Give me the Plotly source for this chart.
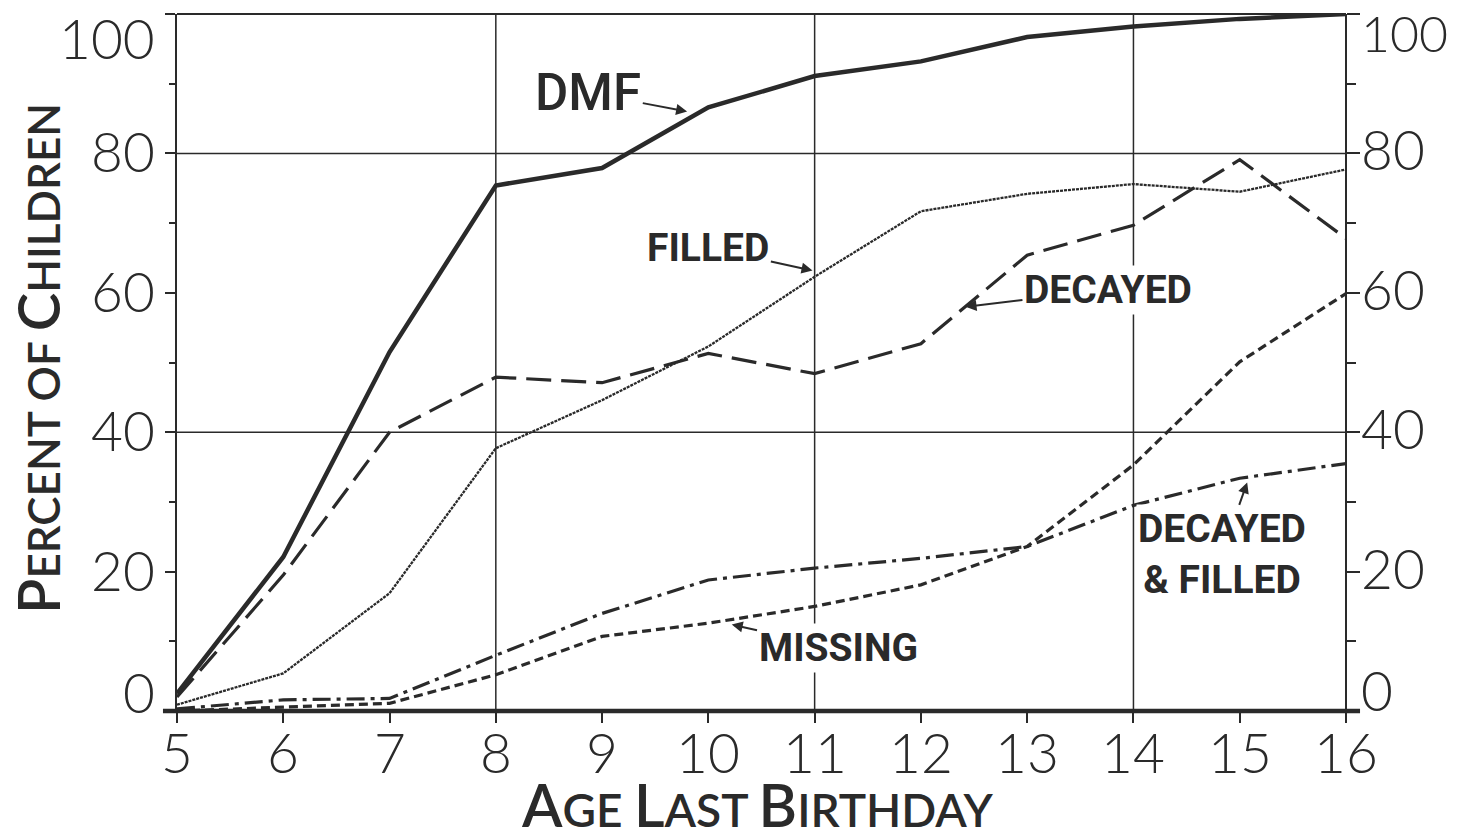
import plotly.graph_objects as go

ages = [5, 6, 7, 8, 9, 10, 11, 12, 13, 14, 15, 16]
dmf = [2.5, 22.1, 51.5, 75.4, 77.9, 86.6, 91.1, 93.2, 96.7, 98.2, 99.3, 100]
decayed = [2.0, 19.5, 40.0, 47.9, 47.1, 51.3, 48.4, 52.7, 65.4, 69.7, 79.1, 67.8]
filled = [0.9, 5.4, 16.9, 37.7, 44.6, 52.3, 62.3, 71.7, 74.2, 75.6, 74.5, 77.7]
missing = [0.0, 0.6, 1.1, 5.2, 10.7, 12.6, 15.0, 18.1, 23.6, 35.3, 50.1, 59.9]
dec_filled = [0.3, 1.6, 1.8, 8.0, 14.0, 18.8, 20.5, 21.9, 23.6, 29.5, 33.4, 35.5]

x_ticks = list(range(5, 17))
y_ticks = [0, 20, 40, 60, 80, 100]
x_grid = [8, 11, 14]
y_grid = [40, 80]

INK = "#2a2a2a"
NUM_FONT = dict(family="Lato Light, Lato, DejaVu Sans", size=55, color=INK, weight=300)
LBL_FONT = dict(family="Roboto, DejaVu Sans", size=39, color=INK, weight="bold")
TITLE_FAMILY = "Lato, DejaVu Sans"

fig = go.Figure()

def add(y, dash, width, name):
    fig.add_trace(go.Scatter(x=ages, y=y, mode="lines", name=name, cliponaxis=False,
                             line=dict(color=INK, width=width, dash=dash)))

add(dmf, "solid", 4.5, "DMF")
add(decayed, "25px,10px", 3.2, "Decayed")
add(filled, "3px,1px", 2.3, "Filled")
add(missing, "9px,5px", 3.2, "Missing")
add(dec_filled, "18px,6px,4px,6px", 3.2, "Decayed & Filled")

# grid lines and frame
for gx in x_grid:
    fig.add_shape(type="line", xref="x", yref="paper", x0=gx, x1=gx, y0=0, y1=1,
                  line=dict(color=INK, width=1.5), layer="below")
for gy in y_grid:
    fig.add_shape(type="line", xref="paper", yref="y", x0=0, x1=1, y0=gy, y1=gy,
                  line=dict(color=INK, width=1.5), layer="below")
fig.add_shape(type="line", xref="paper", yref="paper", x0=0, x1=1, y0=1, y1=1,
              line=dict(color=INK, width=2))
fig.add_shape(type="line", xref="paper", yref="paper", x0=1, x1=1, y0=0, y1=1,
              line=dict(color=INK, width=2))
fig.add_shape(type="line", xref="paper", yref="paper", x0=-0.012, x1=1.012, y0=0, y1=0,
              line=dict(color=INK, width=4.5))

# tick labels (placed like the original lettering)
left_shift = {0: 19, 100: -24}
right_shift = {0: 21, 100: -19}
for v in y_ticks:
    fig.add_annotation(x=0, xref="paper", y=v, yref="y", text=str(v), showarrow=False,
                       xanchor="right", yanchor="middle", xshift=-20,
                       yshift=left_shift.get(v, 2), font=NUM_FONT)
    rfont = dict(NUM_FONT, size=50) if v == 100 else NUM_FONT
    fig.add_annotation(x=1, xref="paper", y=v, yref="y", text=str(v), showarrow=False,
                       xanchor="left", yanchor="middle", xshift=13,
                       yshift=right_shift.get(v, 4), font=rfont)
for a in x_ticks:
    fig.add_annotation(x=a, xref="x", y=0, yref="y", text=str(a), showarrow=False,
                       xanchor="center", yanchor="middle", yshift=-41, font=NUM_FONT)

# axis titles in small caps
def smallcaps(words, big, small):
    parts = []
    for w, cap in words:
        if cap:
            parts.append(f"<span style='font-size:{big}px'>{w[0]}</span>"
                         f"<span style='font-size:{small}px'>{w[1:]}</span>")
        else:
            parts.append(f"<span style='font-size:{small}px'>{w}</span>")
    return " ".join(parts)

fig.add_annotation(x=0.497, xref="paper", y=0, yref="paper", yshift=-93,
                   text=smallcaps([("AGE", True), ("LAST", True), ("BIRTHDAY", True)], 59, 46),
                   showarrow=False, yanchor="middle",
                   font=dict(family=TITLE_FAMILY, size=46, color=INK, weight=600))
fig.add_annotation(x=0, xref="paper", xshift=-140, y=0.505, yref="paper",
                   text=smallcaps([("PERCENT", True), ("OF", False), ("CHILDREN", True)], 58, 44),
                   showarrow=False, textangle=-90, xanchor="center", yanchor="middle",
                   font=dict(family=TITLE_FAMILY, size=44, color=INK, weight=600))

def label(text, x, y, ax, ay, size=39, weight="bold"):
    fig.add_annotation(x=x, y=y, xref="x", yref="y", text=text, showarrow=True,
                       ax=ax, ay=ay, axref="x", ayref="y",
                       arrowhead=2, arrowsize=1.1, arrowwidth=2, arrowcolor=INK,
                       font=dict(LBL_FONT, size=size, weight=weight),
                       bgcolor="white", borderpad=1, standoff=0)

label("DMF", 9.8, 86.0, 8.87, 88.7, size=51, weight=500)
label("FILLED", 10.98, 63.2, 10.0, 66.4)
label("DECAYED", 12.42, 58.0, 13.76, 60.4)
label("MISSING", 10.22, 12.4, 11.22, 9.0)
label("DECAYED<br>&amp; FILLED", 15.07, 32.8, 14.83, 22.4)

# the page adds an 8px body margin on every side, so the figure is drawn 16px smaller
fig.update_layout(
    width=1443, height=819,
    margin=dict(l=169, r=105, t=6, b=116),
    paper_bgcolor="white", plot_bgcolor="white",
    showlegend=False,
    xaxis=dict(range=[5, 16], tickvals=x_ticks, ticks="outside", ticklen=11, tickwidth=2,
               tickcolor=INK, showline=False, showgrid=False, zeroline=False,
               showticklabels=False, automargin=False),
    yaxis=dict(range=[0, 100], tickvals=y_ticks, ticks="outside", ticklen=10, tickwidth=2,
               tickcolor=INK, showline=True, linewidth=2, linecolor=INK, showgrid=False,
               zeroline=False, showticklabels=False, automargin=False,
               minor=dict(dtick=10, ticks="outside", ticklen=6, tickcolor=INK, tickwidth=1.5)),
    yaxis2=dict(range=[0, 100], overlaying="y", side="right", tickvals=y_ticks, ticks="outside",
                ticklen=13, tickwidth=2, tickcolor=INK, showline=False,
                showgrid=False, zeroline=False, showticklabels=False, automargin=False,
                minor=dict(dtick=10, ticks="outside", ticklen=9, tickcolor=INK, tickwidth=1.5)),
)
fig.add_trace(go.Scatter(x=[ages[0]], y=[0], yaxis="y2", mode="markers",
                         marker=dict(opacity=0), showlegend=False, hoverinfo="skip"))

fig.write_html("out.html")
